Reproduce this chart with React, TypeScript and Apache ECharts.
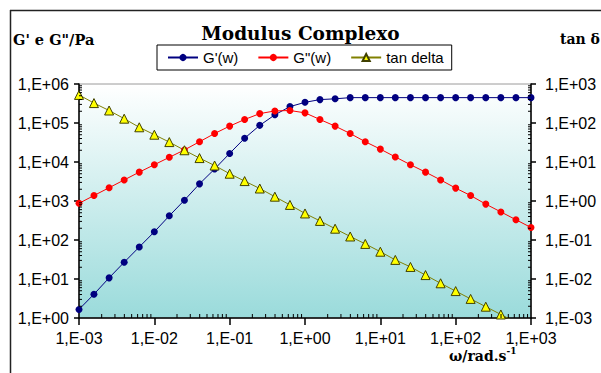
import React, { useEffect, useRef } from "react";
import * as echarts from "echarts";

const omega = [
  0.001, 0.00158, 0.00251, 0.00398, 0.00631, 0.01, 0.0158, 0.0251, 0.0398, 0.0631,
  0.1, 0.158, 0.251, 0.398, 0.631, 1, 1.58, 2.51, 3.98, 6.31,
  10, 15.8, 25.1, 39.8, 63.1, 100, 158, 251, 398, 631, 1000,
];

const gStorage = [
  1.66, 4.07, 10.7, 26.9, 66.1, 162, 417, 1050, 2750, 6610,
  16600, 40700, 87100, 162000, 263000, 339000, 398000, 417000, 447000, 447000,
  447000, 447000, 447000, 447000, 447000, 447000, 447000, 447000, 447000, 447000, 447000,
];

const gLoss = [
  871, 1380, 2190, 3470, 5500, 8510, 13200, 20400, 33100, 53700,
  83200, 123000, 174000, 204000, 209000, 182000, 123000, 83200, 53700, 33100,
  21400, 13500, 8510, 5500, 3470, 2140, 1380, 832, 525, 331, 209,
];

const tanDelta = [
  525, 324, 209, 129, 77.6, 50.1, 32.4, 20.0, 12.6, 8.13,
  5.01, 3.24, 2.09, 1.29, 0.794, 0.479, 0.309, 0.195, 0.123, 0.0794,
  0.0501, 0.0309, 0.0204, 0.0126, 0.00776, 0.0049, 0.00309, 0.00195, 0.00123, 0.000776, 0.00049,
];

const seriesNames = ["G'(w)", 'G"(w)', "tan delta"];
const xDecades = [-3, -2, -1, 0, 1, 2];
const yDecades = [0, 1, 2, 3, 4, 5];
const minorMultipliers = [2, 3, 4, 5, 6, 7, 8, 9];

const fmt = (v: number) => {
  const e = Math.round(Math.log10(v));
  return "1,E" + (e < 0 ? "-" : "+") + String(Math.abs(e)).padStart(2, "0");
};

export default function App() {
  const ref = useRef<HTMLDivElement>(null);
  useEffect(() => {
    if (!ref.current) return;
    const chart = echarts.init(ref.current, undefined, { renderer: "svg" });

    const xMinor: number[][] = [];
    xDecades.forEach((d) => minorMultipliers.forEach((m) => xMinor.push([m * Math.pow(10, d), 1])));
    const yMinor: number[][] = [];
    yDecades.forEach((d) => minorMultipliers.forEach((m) => yMinor.push([0.001, m * Math.pow(10, d)])));

    const labelFont = { fontFamily: "Liberation Sans", fontSize: 16, color: "#000" };

    chart.setOption({
      animation: false,
      backgroundColor: "#fff",
      title: {
        text: "Modulus Complexo",
        left: "center",
        top: 19,
        textStyle: { fontFamily: "DejaVu Serif", fontWeight: "bold", fontSize: 18.5, color: "#000" },
      },
      legend: {
        data: seriesNames,
        left: 157,
        top: 45,
        padding: [5, 8, 5, 10],
        itemGap: 19,
        itemWidth: 30,
        itemHeight: 9,
        borderColor: "#000",
        borderWidth: 1,
        backgroundColor: "#fff",
        textStyle: { fontFamily: "Liberation Sans", fontSize: 15, color: "#000" },
      },
      grid: {
        left: 79,
        right: 70,
        top: 84,
        bottom: 55,
        show: true,
        borderColor: "#9a9a9a",
        borderWidth: 1,
        outerBoundsMode: "none",
        backgroundColor: new echarts.graphic.LinearGradient(0, 0, 0, 1, [
          { offset: 0, color: "#ffffff" },
          { offset: 1, color: "#9adbdb" },
        ]),
      },
      xAxis: {
        type: "log",
        logBase: 10,
        min: 0.001,
        max: 1000,
        splitNumber: 6,
        axisLine: { show: true, lineStyle: { color: "#000", width: 1.5 } },
        axisTick: { show: true, length: 7, lineStyle: { color: "#000", width: 1.5 } },
        splitLine: { show: false },
        axisLabel: { ...labelFont, margin: 12, formatter: fmt },
      },
      yAxis: [
        {
          type: "log",
          logBase: 10,
          min: 1,
          max: 1e6,
          splitNumber: 6,
          axisLine: { show: true, lineStyle: { color: "#000", width: 1.5 } },
          axisTick: { show: true, length: 5, lineStyle: { color: "#000", width: 1.5 } },
          splitLine: { show: false },
          axisLabel: { ...labelFont, margin: 10, formatter: fmt },
        },
        {
          type: "log",
          logBase: 10,
          min: 0.001,
          max: 1000,
          splitNumber: 6,
          position: "right",
          axisLine: { show: true, lineStyle: { color: "#000", width: 1.5 } },
          axisTick: { show: true, length: 5, lineStyle: { color: "#000", width: 1.5 } },
          splitLine: { show: false },
          axisLabel: { ...labelFont, margin: 14, formatter: fmt },
        },
      ],
      graphic: [
        { type: "line", shape: { x1: 10, y1: 10.5, x2: 601, y2: 10.5 }, style: { stroke: "#222", lineWidth: 1.5 } },
        { type: "line", shape: { x1: 10.5, y1: 10, x2: 10.5, y2: 373 }, style: { stroke: "#222", lineWidth: 1.5 } },
        {
          type: "text",
          left: 13,
          top: 32,
          style: { text: "G' e G\"/Pa", font: "bold 14.5px 'DejaVu Serif'", fill: "#000" },
        },
        {
          type: "text",
          left: 560,
          top: 32,
          style: { text: "tan δ", font: "bold 14px 'DejaVu Serif'", fill: "#000" },
        },
        {
          type: "text",
          left: 449,
          top: 346,
          style: {
            text: "{a|ω/rad.s}{b|-1}",
            rich: {
              a: { fontFamily: "DejaVu Serif", fontWeight: "bold", fontSize: 14, fill: "#000", verticalAlign: "bottom" },
              b: { fontFamily: "DejaVu Serif", fontWeight: "bold", fontSize: 9, fill: "#000", verticalAlign: "top", padding: [0, 0, 8, 0] },
            },
          },
        },
      ],
      series: [
        {
          type: "custom",
          name: "xminor",
          silent: true,
          clip: false,
          xAxisIndex: 0,
          yAxisIndex: 0,
          data: xMinor,
          renderItem: (_p: any, api: any) => {
            const pt = api.coord([api.value(0), 1]);
            return {
              type: "line",
              shape: { x1: pt[0], y1: pt[1], x2: pt[0], y2: pt[1] - 4 },
              style: { stroke: "#000", lineWidth: 1 },
            };
          },
          z: 10,
        },
        {
          type: "custom",
          name: "yminor",
          silent: true,
          clip: false,
          xAxisIndex: 0,
          yAxisIndex: 0,
          data: yMinor,
          renderItem: (_p: any, api: any) => {
            const l = api.coord([0.001, api.value(1)]);
            const r = api.coord([1000, api.value(1)]);
            return {
              type: "group",
              children: [
                { type: "line", shape: { x1: l[0], y1: l[1], x2: l[0] + 3, y2: l[1] }, style: { stroke: "#000", lineWidth: 1 } },
                { type: "line", shape: { x1: r[0], y1: r[1], x2: r[0] - 3, y2: r[1] }, style: { stroke: "#000", lineWidth: 1 } },
              ],
            };
          },
          z: 10,
        },
        {
          name: seriesNames[0],
          type: "line",
          yAxisIndex: 0,
          data: omega.map((w, i) => [w, gStorage[i]]),
          symbol: "circle",
          symbolSize: 7,
          lineStyle: { color: "#000080", width: 1 },
          itemStyle: { color: "#000080" },
          clip: true,
        },
        {
          name: seriesNames[1],
          type: "line",
          yAxisIndex: 0,
          data: omega.map((w, i) => [w, gLoss[i]]),
          symbol: "circle",
          symbolSize: 7,
          lineStyle: { color: "#ff0000", width: 1 },
          itemStyle: { color: "#ff0000" },
          clip: true,
        },
        {
          name: seriesNames[2],
          type: "line",
          yAxisIndex: 1,
          data: omega.map((w, i) => [w, tanDelta[i]]),
          symbol: "triangle",
          symbolSize: 9,
          lineStyle: { color: "#808000", width: 1 },
          itemStyle: { color: "#ffff00", borderColor: "#404000", borderWidth: 1 },
          clip: true,
        },
      ],
    });
    return () => chart.dispose();
  }, []);
  return (
    <div
      ref={ref}
      style={{ position: "fixed", left: 0, top: 0, width: 601, height: 373 }}
    />
  );
}
